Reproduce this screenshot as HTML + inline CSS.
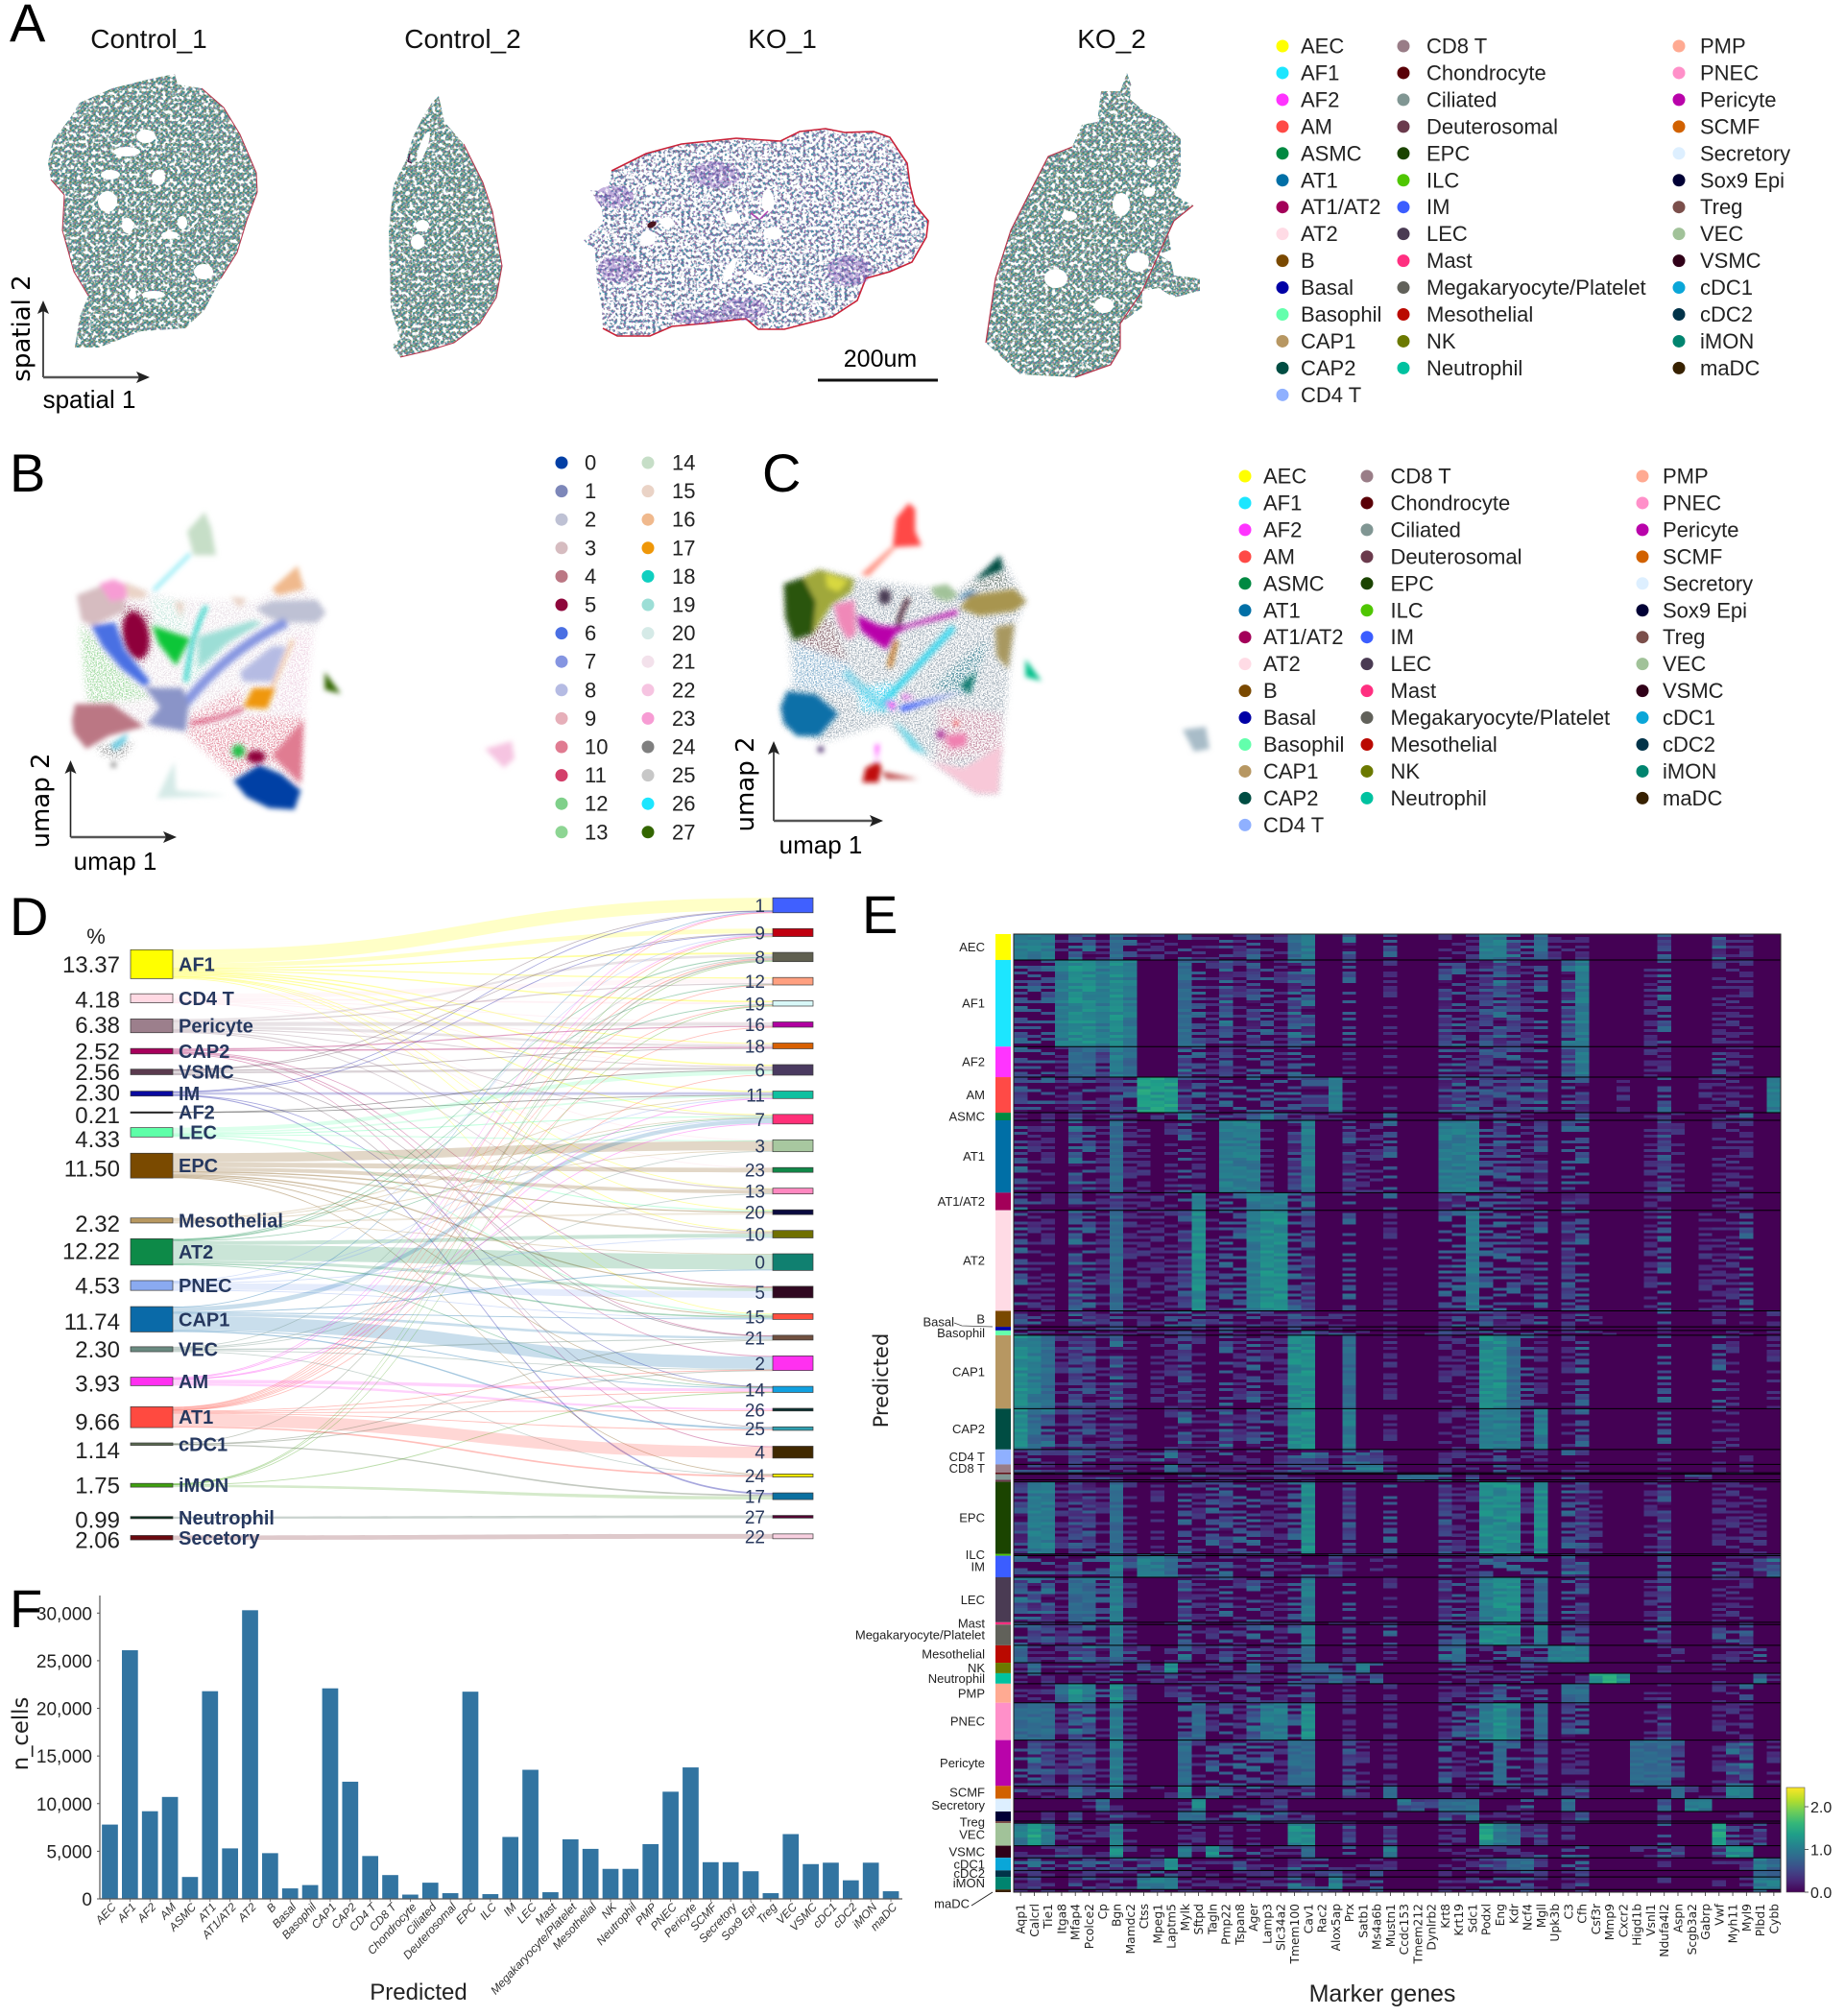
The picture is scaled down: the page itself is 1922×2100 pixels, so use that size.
<!DOCTYPE html>
<html lang="en">
<head>
<meta charset="utf-8">
<title>Lung spatial transcriptomics figure</title>
<style>
html,body{margin:0;padding:0;background:#fff;}
svg{display:block;font-family:"Liberation Sans",sans-serif;}
.letter{font-size:56px;fill:#000;}
.title{font-size:28px;fill:#111;text-anchor:middle;}
.wide{font-family:"DejaVu Sans",sans-serif;}
</style>
</head>
<body>
<svg id="figure" xmlns="http://www.w3.org/2000/svg" width="1922" height="2100" viewBox="0 0 1922 2100">
<defs>
<pattern id="tissueDense" width="5" height="5" patternUnits="userSpaceOnUse">
<rect width="5" height="5" fill="#6f9592"/>
<circle cx="1" cy="1" r=".9" fill="#1f8f90"/><circle cx="3.5" cy=".8" r=".8" fill="#b09468"/>
<circle cx="2.2" cy="2.6" r=".8" fill="#a8709a"/><circle cx="4.3" cy="2.9" r=".8" fill="#3f84b0"/>
<circle cx=".8" cy="4.2" r=".8" fill="#b4c8a4"/><circle cx="3.3" cy="4.3" r=".8" fill="#3f7f5f"/>
</pattern>
<pattern id="tissueSparse" width="5" height="5" patternUnits="userSpaceOnUse">
<rect width="5" height="5" fill="#7a88a8"/>
<circle cx="1" cy="1" r=".9" fill="#2f97a8"/><circle cx="3.5" cy=".8" r=".8" fill="#a860b8"/>
<circle cx="2.2" cy="2.6" r=".8" fill="#55607f"/><circle cx="4.3" cy="2.9" r=".8" fill="#c07a9a"/>
<circle cx=".8" cy="4.2" r=".8" fill="#7a5fa8"/><circle cx="3.3" cy="4.3" r=".8" fill="#40a8b8"/>
</pattern>
<filter id="maskDense" x="-5%" y="-5%" width="110%" height="110%" color-interpolation-filters="sRGB">
<feTurbulence type="fractalNoise" baseFrequency="0.26" numOctaves="2" seed="7" result="n"/>
<feColorMatrix in="n" type="matrix" values="0 0 0 0 0  0 0 0 0 0  0 0 0 0 0  7 0 0 0 -2.55" result="m"/>
<feComposite in="SourceGraphic" in2="m" operator="in"/>
</filter>
<filter id="maskSparse" x="-5%" y="-5%" width="110%" height="110%" color-interpolation-filters="sRGB">
<feTurbulence type="fractalNoise" baseFrequency="0.3" numOctaves="2" seed="11" result="n"/>
<feColorMatrix in="n" type="matrix" values="0 0 0 0 0  0 0 0 0 0  0 0 0 0 0  7 0 0 0 -3.25" result="m"/>
<feComposite in="SourceGraphic" in2="m" operator="in"/>
</filter>
<filter id="soft" x="-10%" y="-10%" width="120%" height="120%"><feGaussianBlur stdDeviation="2.6"/></filter>
<filter id="speckle" x="-10%" y="-10%" width="120%" height="120%" color-interpolation-filters="sRGB">
<feGaussianBlur in="SourceGraphic" stdDeviation="3.5" result="b"/>
<feTurbulence type="fractalNoise" baseFrequency="0.7" numOctaves="2" seed="4" result="n"/>
<feColorMatrix in="n" type="matrix" values="0 0 0 0 0  0 0 0 0 0  0 0 0 0 0  6 0 0 0 -2.7" result="m"/>
<feComposite in="b" in2="m" operator="in"/>
</filter>
<linearGradient id="viridisBar" x1="0" y1="1" x2="0" y2="0">
<stop offset="0" stop-color="#440154"/><stop offset=".11" stop-color="#482878"/><stop offset=".22" stop-color="#3e4a89"/>
<stop offset=".33" stop-color="#31688e"/><stop offset=".44" stop-color="#26828e"/><stop offset=".55" stop-color="#1f9e89"/>
<stop offset=".66" stop-color="#35b779"/><stop offset=".77" stop-color="#6dcd59"/><stop offset=".88" stop-color="#b4de2c"/>
<stop offset="1" stop-color="#fde725"/>
</linearGradient>
<marker id="arrowHead" markerUnits="userSpaceOnUse" markerWidth="14" markerHeight="12" refX="11" refY="6" orient="auto"><path d="M0,0 L14,6 L0,12 L3,6 Z" fill="#222"/></marker>
</defs>

<!-- Panel letters -->
<text class="letter" x="10" y="43">A</text>
<text class="letter" x="10" y="512">B</text>
<text class="letter" x="794" y="512">C</text>
<text class="letter" x="10" y="974">D</text>
<text class="letter" x="898" y="972">E</text>
<text class="letter" x="10" y="1695">F</text>

<!-- Panel A -->
<g id="panelA">
<text class="title" x="155" y="50">Control_1</text>
<text class="title" x="482" y="50">Control_2</text>
<text class="title" x="815" y="50">KO_1</text>
<text class="title" x="1158" y="50">KO_2</text>

<g>
<g filter="url(#maskDense)"><polygon points="182,77 185,88 210,92 233,112 250,140 267,180 268,200 257,230 247,263 230,290 213,323 193,342 147,345 103,362 78,362 83,330 92,308 77,283 65,240 67,203 53,187 50,170 55,147 73,123 83,107 117,92 153,83" fill="url(#tissueDense)"/></g>
<polyline points="210,92 233,112 250,140 267,180 268,200 257,230 247,263 230,290" fill="none" stroke="#b8344c" stroke-width="1"/>
<polyline points="92,308 77,283 65,240 67,203 53,187" fill="none" stroke="#b8344c" stroke-width="1"/>
<g fill="#fff"><ellipse cx="152" cy="142" rx="10" ry="7"/><ellipse cx="132" cy="158" rx="14" ry="5"/><ellipse cx="115" cy="182" rx="10" ry="5"/><ellipse cx="112" cy="210" rx="10" ry="11"/><ellipse cx="133" cy="235" rx="6" ry="8"/><ellipse cx="165" cy="185" rx="7" ry="8"/><ellipse cx="190" cy="232" rx="5" ry="7"/><ellipse cx="177" cy="245" rx="9" ry="4"/><ellipse cx="212" cy="283" rx="10" ry="8"/><ellipse cx="160" cy="307" rx="12" ry="4"/><ellipse cx="138" cy="307" rx="4" ry="5"/></g>
</g>
<g>
<g filter="url(#maskDense)"><polygon points="457,100 463,127 483,150 503,190 513,220 523,277 517,310 500,337 473,357 447,365 417,372 408,360 417,353 407,320 405,240 410,193 423,167 430,143 440,123 450,107" fill="url(#tissueDense)"/></g>
<polyline points="483,150 503,190 513,220 523,277 517,310 500,337 473,357 447,365 417,372" fill="none" stroke="#b8344c" stroke-width="1"/>
<g fill="#fff"><ellipse cx="441" cy="153" rx="4" ry="17" transform="rotate(20 441 153)"/><ellipse cx="440" cy="235" rx="7" ry="6"/><ellipse cx="435" cy="252" rx="7" ry="8"/></g>
<path d="M427,160 l-2,8 4,2" fill="none" stroke="#50204a" stroke-width="1.5"/>
</g>
<g>
<g filter="url(#maskSparse)"><polygon points="628,342 643,350 677,350 700,340 733,337 777,332 790,343 817,343 867,330 893,313 902,290 927,283 950,273 965,247 967,230 953,213 948,193 945,170 927,143 910,137 880,138 860,134 833,137 813,147 767,144 710,150 673,160 637,178 633,200 615,198 627,217 628,233 608,250 620,263 622,293 627,320" fill="url(#tissueSparse)"/></g>
<polyline points="628,342 643,350 677,350 700,340 733,337 777,332 790,343 817,343 867,330 893,313 902,290 927,283 950,273 965,247 967,230 953,213 948,193 945,170 927,143 910,137 880,138 860,134 833,137 813,147 767,144 710,150 673,160 637,178" fill="none" stroke="#c92238" stroke-width="1.6"/>
<g filter="url(#maskDense)" fill="#7a4fb4" opacity=".45"><ellipse cx="730" cy="330" rx="30" ry="8"/><ellipse cx="775" cy="322" rx="24" ry="12"/><ellipse cx="885" cy="282" rx="24" ry="16"/><ellipse cx="645" cy="280" rx="22" ry="14"/><ellipse cx="640" cy="205" rx="20" ry="12"/><ellipse cx="745" cy="182" rx="26" ry="14"/></g>
<g fill="#fff"><ellipse cx="800" cy="210" rx="6.5" ry="12"/><ellipse cx="805" cy="243" rx="10" ry="6.5"/><ellipse cx="675" cy="248" rx="8" ry="8"/><ellipse cx="763" cy="227" rx="8" ry="6.5"/><ellipse cx="695" cy="232" rx="6.5" ry="6"/><ellipse cx="677" cy="197" rx="5" ry="5"/><ellipse cx="760" cy="282" rx="4" ry="14" transform="rotate(25 760 282)"/><ellipse cx="787" cy="290" rx="14" ry="3.5" transform="rotate(15 787 290)"/></g>
<ellipse cx="679" cy="234" rx="5" ry="3" fill="#4a1520" transform="rotate(-25 679 234)"/>
<path d="M792,228 l8,-8 M790,228 l-8,-6" stroke="#b040b0" stroke-width="1.5" fill="none"/>
</g>
<g>
<g filter="url(#maskDense)"><polygon points="1174,76 1179,90 1177,103 1193,117 1210,125 1230,145 1230,183 1223,203 1243,214 1223,230 1217,243 1220,260 1207,265 1220,273 1223,287 1250,290 1250,303 1223,310 1207,300 1190,303 1190,320 1167,337 1167,363 1157,380 1120,393 1063,390 1027,357 1037,290 1053,240 1073,200 1092,163 1117,153 1127,130 1143,127 1147,95 1167,95" fill="url(#tissueDense)"/></g>
<polyline points="1027,357 1037,290 1053,240 1073,200 1092,163 1117,153" fill="none" stroke="#b8344c" stroke-width="1.2"/>
<polyline points="1243,214 1223,230 1217,243 1207,265 1190,303 1167,337 1167,363 1157,380 1120,393" fill="none" stroke="#b8344c" stroke-width="1.2"/>
<g fill="#fff"><ellipse cx="1168" cy="213" rx="9" ry="12"/><ellipse cx="1185" cy="273" rx="12" ry="10"/><ellipse cx="1100" cy="290" rx="12" ry="10"/><ellipse cx="1150" cy="318" rx="10" ry="8"/><ellipse cx="1114" cy="225" rx="8" ry="5"/><ellipse cx="1197" cy="200" rx="6" ry="5"/><ellipse cx="1200" cy="170" rx="5" ry="4"/></g>
</g>

<line x1="45" y1="393" x2="45" y2="316" stroke="#222" stroke-width="1.6" marker-end="url(#arrowHead)"/>
<line x1="45" y1="393" x2="153" y2="393" stroke="#555" stroke-width="2.4" marker-end="url(#arrowHead)"/>
<text transform="translate(31,342) rotate(-90)" text-anchor="middle" font-size="26" class="wide">spatial 2</text>
<text x="93" y="425" text-anchor="middle" font-size="26">spatial 1</text>
<line x1="852" y1="396" x2="977" y2="396" stroke="#111" stroke-width="3"/>
<text x="917" y="382" text-anchor="middle" font-size="25">200um</text>
</g>

<!-- Panel B umap -->
<g id="umapB">
<g filter="url(#speckle)">
<g transform="translate(50,520) scale(.33333)">
<polygon points="240,270 320,290 400,310 650,320 780,240 865,350 830,420 800,680 790,900 600,880 420,730 300,720 120,640 100,400" fill="#ece4ea"/>
<polygon points="100,390 130,420 220,530 320,620 130,640 115,560" fill="#a5dca5"/>
<polygon points="320,300 420,320 440,420 330,400" fill="#cfeae2"/>
<polygon points="470,440 560,450 430,600" fill="#c3e8df"/>
<polygon points="450,670 600,590 610,650 430,730" fill="#e6a0b0"/>
<polygon points="430,730 620,680 798,680 790,880 700,820 580,870" fill="#e698a8"/>
<polygon points="770,420 830,420 800,680 700,650 745,540" fill="#f0d8e6"/>
<polygon points="150,770 270,760 230,810 170,800" fill="#999"/>
<polygon points="230,320 320,350 320,480 290,520 230,450" fill="#b06a88"/>
</g>
</g>
<g filter="url(#soft)">
<g transform="translate(50,520) scale(.33333)">
<polygon points="90,300 180,265 240,300 240,350 140,395 105,380" fill="#d6bcc0"/>
<polygon points="160,265 205,250 250,270 245,310 195,320" fill="#f79cd4"/>
<polygon points="240,260 310,290 300,310 250,310" fill="#ead3c6"/>
<polygon points="395,320 425,325 415,370" fill="#ead3c6"/>
<polygon points="570,305 620,310 600,340" fill="#ead3c6"/>
<polygon points="135,395 210,385 240,470 320,570 300,585 230,530 170,460" fill="#4a6fe3"/>
<ellipse cx="275" cy="425" rx="40" ry="75" fill="#8e063b" transform="rotate(-10 275 425)"/>
<polygon points="325,395 445,435 400,520 345,450" fill="#11c638"/>
<polygon points="470,430 640,380 670,385 560,450 470,530" fill="#9cded6"/>
<polygon points="650,340 700,318 840,315 868,355 840,385 730,385 680,365" fill="#bec1d4"/>
<polygon points="600,540 700,460 745,460 700,570 610,570" fill="#b5bbe3"/>
<path d="M420,650 Q560,470 745,385" fill="none" stroke="#8595e1" stroke-width="30"/>
<polygon points="300,585 345,590 420,590 440,640 430,725 340,710 310,700 350,650" fill="#8a94c8"/>
<path d="M495,335 Q455,400 430,570" fill="none" stroke="#0fcfc0" stroke-width="11"/>
<polygon points="700,280 780,208 800,280 720,300" fill="#f0b98d"/>
<polygon points="610,650 640,590 710,590 685,655" fill="#ef9708"/>
<path d="M700,590 L765,440" stroke="#f0b070" stroke-width="7" fill="none"/>
<path d="M445,700 Q530,690 610,655" fill="none" stroke="#d33f6a" stroke-width="10"/>
<polygon points="700,800 798,690 790,890" fill="#e07b91"/>
<polygon points="85,640 200,640 300,710 190,740 120,780 80,730 75,690" fill="#bb7784"/>
<polygon points="195,770 250,730 240,760 210,785" fill="#60c8e0"/>
<circle cx="205" cy="830" r="9" fill="#888"/>
<polygon points="580,880 660,830 730,860 790,910 770,970 690,965 620,930" fill="#023fa5"/>
<circle cx="595" cy="787" r="20" fill="#22c04a"/>
<ellipse cx="650" cy="805" rx="30" ry="20" fill="#8e063b"/>
<polygon points="340,935 395,820 400,910 560,925" fill="#d5eae7"/>
<polygon points="435,100 490,40 510,90 525,175 455,175" fill="#c6dec7"/>
<path d="M445,170 L330,285" stroke="#50e0f0" stroke-width="7" fill="none"/>
<polygon points="865,540 915,608 865,595" fill="#336600"/>
</g>
<polygon points="505,780 533,772 536,790 525,800" fill="#f6c4e1"/>
</g>
</g>
<line x1="73.5" y1="872" x2="73.5" y2="795" stroke="#222" stroke-width="1.6" marker-end="url(#arrowHead)"/>
<line x1="73.5" y1="872" x2="181" y2="872" stroke="#555" stroke-width="2.4" marker-end="url(#arrowHead)"/>
<text transform="translate(51,834) rotate(-90)" text-anchor="middle" font-size="26" class="wide">umap 2</text>
<text x="120" y="906" text-anchor="middle" font-size="26">umap 1</text>

<!-- Panel C umap -->
<g id="umapC">
<g filter="url(#speckle)">
<g transform="translate(790,510) scale(.33333)">
<polygon points="80,300 190,250 310,280 620,320 760,210 835,350 800,430 760,800 750,950 680,950 540,850 400,730 200,790 80,740 70,670 110,600 85,400" fill="#a6b2bc"/>
<polygon points="110,470 280,540 320,640 110,620" fill="#8cb4d0"/>
<polygon points="310,620 420,600 430,690 320,695" fill="#50d0ee"/>
<polygon points="540,620 650,520 720,470 660,640" fill="#4a8a9a"/>
<polygon points="560,680 760,700 760,820 560,850" fill="#c896aa"/>
<polygon points="140,430 230,400 280,540 120,480" fill="#907078"/>
<polygon points="640,310 760,250 790,300 650,320" fill="#708078"/>
</g>
</g>
<g filter="url(#soft)">
<g transform="translate(790,510) scale(.33333)">
<polygon points="80,295 140,275 180,350 170,450 110,470 85,400" fill="#2a5510"/>
<polygon points="140,275 190,250 300,280 290,320 230,360 190,420 170,450 180,350" fill="#a0a83a"/>
<polygon points="210,262 280,285 250,320 215,305" fill="#d8d840"/>
<polygon points="235,360 300,345 305,450 280,470 250,420" fill="#f088b8"/>
<polygon points="305,390 380,425 440,430 625,375 620,390 470,430 430,450 400,500 370,480 320,440" fill="#b903aa"/>
<path d="M470,340 Q440,390 437,430" fill="none" stroke="#300018" stroke-width="12"/>
<ellipse cx="395" cy="335" rx="20" ry="24" fill="#4a3b53"/>
<path d="M430,470 L410,555" stroke="#c06a10" stroke-width="13" fill="none"/>
<polygon points="540,305 590,295 625,330 590,350 550,335" fill="#a1c299"/>
<polygon points="675,285 755,205 765,250" fill="#004d43"/>
<polygon points="630,370 660,330 800,310 838,350 800,380 690,395" fill="#a89550"/>
<polygon points="740,430 800,420 780,560 745,520" fill="#a89860"/>
<polygon points="620,340 660,318 690,320 640,340" fill="#2f7fb0"/>
<path d="M385,670 L610,430" stroke="#30d8f0" stroke-width="18" fill="none"/>
<path d="M270,570 L400,690" stroke="#60d0e8" stroke-width="26" fill="none" opacity=".6"/>
<polygon points="630,610 680,570 660,640" fill="#0f7a70"/>
<polygon points="440,678 600,640 640,630 560,655 450,695" fill="#3b5dff"/>
<polygon points="90,630 180,640 250,700 190,770 120,770 80,730 70,680" fill="#1070a8"/>
<polygon points="395,660 430,665 420,695" fill="#f050f0"/>
<polygon points="450,640 490,650 450,655" fill="#e050e8"/>
<polygon points="420,720 470,760 530,830 480,810" fill="#70d8e8"/>
<polygon points="540,850 640,870 760,800 750,950 680,950" fill="#f8c8d8"/>
<polygon points="580,770 650,760 650,800 600,810" fill="#f080b0"/>
<circle cx="570" cy="765" r="14" fill="#b040a0"/>
<circle cx="618" cy="730" r="8" fill="#ff5050"/>
<polygon points="325,915 335,870 375,850 385,870 375,915" fill="#c00808"/>
<polygon points="385,880 500,905 400,905" fill="#c05050"/>
<polygon points="365,800 378,795 370,850" fill="#ff34ff"/>
<polygon points="420,180 430,90 470,42 490,60 490,130 510,175" fill="#ff4a46"/>
<polygon points="415,180 430,180 345,270 320,265" fill="#ff9080"/>
<polygon points="835,530 885,598 835,585" fill="#00c08a"/>
<circle cx="195" cy="812" r="10" fill="#503070"/>
</g>
<polygon points="1232,760 1256,757 1260,780 1244,783" fill="#a8bcc8"/>
</g>
</g>
<line x1="806" y1="855" x2="806" y2="775" stroke="#222" stroke-width="1.6" marker-end="url(#arrowHead)"/>
<line x1="806" y1="855" x2="917" y2="855" stroke="#555" stroke-width="2.4" marker-end="url(#arrowHead)"/>
<text transform="translate(785,817) rotate(-90)" text-anchor="middle" font-size="26" class="wide">umap 2</text>
<text x="855" y="889" text-anchor="middle" font-size="26">umap 1</text>

<g id="legends"></g>
<g id="sankey"></g>
<g id="heatmap"></g>
<g id="barchart"></g>
</svg>

<script>
/* ---------- shared categories ---------- */
const cellTypes = ["AEC","AF1","AF2","AM","ASMC","AT1","AT1/AT2","AT2","B","Basal","Basophil","CAP1","CAP2","CD4 T","CD8 T","Chondrocyte","Ciliated","Deuterosomal","EPC","ILC","IM","LEC","Mast","Megakaryocyte/Platelet","Mesothelial","NK","Neutrophil","PMP","PNEC","Pericyte","SCMF","Secretory","Sox9 Epi","Treg","VEC","VSMC","cDC1","cDC2","iMON","maDC"];
const cellColors = ["#ffff00","#1ce6ff","#ff34ff","#ff4a46","#008941","#006fa6","#a30059","#ffdbe5","#7a4900","#0000a6","#63ffac","#b79762","#004d43","#8fb0ff","#997d87","#5a0007","#809693","#6a3a4c","#1b4400","#4fc601","#3b5dff","#4a3b53","#ff2f80","#61615a","#ba0900","#6b7900","#00c2a0","#ffaa92","#ff90c9","#b903aa","#d16100","#ddefff","#000035","#7b4f4b","#a1c299","#300018","#0aa6d8","#013349","#00846f","#372101"];
const clusterColors = ["#023fa5","#7d87b9","#bec1d4","#d6bcc0","#bb7784","#8e063b","#4a6fe3","#8595e1","#b5bbe3","#e6afb9","#e07b91","#d33f6a","#7fd08a","#8dd593","#c6dec7","#ead3c6","#f0b98d","#ef9708","#0fcfc0","#9cded6","#d5eae7","#f3e1eb","#f6c4e1","#f79cd4","#7f7f7f","#c7c7c7","#1ce6ff","#336600"];

/* ---------- panel F data ---------- */
const nCells = [7800,26100,9200,10700,2300,21800,5300,30300,4800,1100,1450,22100,12300,4500,2500,450,1700,600,21750,500,6500,13550,700,6250,5250,3150,3150,5750,11250,13800,3850,3850,2900,600,6800,3650,3800,1950,3800,800];
const barTicks = [0,5000,10000,15000,20000,25000,30000];
const barTickLabels = ["0","5,000","10,000","15,000","20,000","25,000","30,000"];

/* ---------- panel D data ---------- */
const leftLabels = ["AF1","CD4 T","Pericyte","CAP2","VSMC","IM","AF2","LEC","EPC","Mesothelial","AT2","PNEC","CAP1","VEC","AM","AT1","cDC1","iMON","Neutrophil","Secetory"];
const leftPercent = [13.37,4.18,6.38,2.52,2.56,2.30,0.21,4.33,11.50,2.32,12.22,4.53,11.74,2.30,3.93,9.66,1.14,1.75,0.99,2.06];
const leftColors = ["#ffff00","#ffd9e3","#9c7f8c","#a8005c","#5a3a4e","#0a0aa0","#111111","#5effa8","#7a4a00","#b89860","#0d8a48","#8aaaf0","#0a6aa8","#6a8a80","#ff30f0","#ff4a40","#5a6a50","#40a010","#0a3020","#6a0a10"];
const rightLabels = [1,9,8,12,19,16,18,6,11,7,3,23,13,20,10,0,5,15,21,2,14,26,25,4,24,17,27,22];
const rightShares = [6.93,3.69,4.27,3.47,2.44,2.44,2.67,4.89,3.47,4.44,5.51,2.22,2.67,2.22,3.47,7.73,5.33,2.67,2.22,6.76,2.84,1.24,1.64,5.51,1.42,3.11,1.24,2.22];
const rightColors = ["#4060ff","#c00010","#606050","#ffa080","#d8f8f8","#b000a0","#d86000","#4a3a60","#10c0a0","#ff3078","#a8c8a0","#108848","#ff88c0","#0a0a40","#707000","#108070","#300820","#ff5040","#705040","#ff30f0","#10a0e0","#0a3030","#30a0b0","#402800","#f0e800","#0a70a0","#500030","#f8d0e0"];
const linkTargets = [
 [1,9,8,12,19,18,6,11,7,10,20,15,13],
 [12,19,16,18,6,3,23],
 [8,12,16,18,6,7,13,10],
 [16,18,5,21,4,2],
 [18,6,1,9,21,25],
 [1,9,11,14,17],
 [11,6],
 [6,11,7,3,20,15],
 [3,23,13,10,20,5,15,14,24],
 [20,11,7,3,0],
 [10,0,5,15,7,8,14,19,12],
 [5,7,11,9,15,10],
 [7,15,21,2,14,25,0,1],
 [3,21,8,13,2,24],
 [7,1,9,14,26,11],
 [1,8,9,12,19,16,6,26,25,4,24,14,2],
 [8,17,2,21],
 [8,9,14,17,19],
 [27],
 [22]
];
const linkWeights = [
 [6,1.8,.5,.5,.5,.5,.6,.5,.5,.4,.3,.3,.2],
 [2,.6,.3,.4,.2,.2,.1],
 [.7,.5,1.6,1.2,.4,.3,.5,.3],
 [.5,.6,.3,.3,.2,.3],
 [.4,1,.2,.2,.4,.2],
 [.3,.2,1.1,.1,.5],
 [.1,.1],
 [1.8,.7,.5,.3,.5,.4],
 [3.4,1.8,1.4,.7,.5,.5,.3,.3,.3],
 [.8,.4,.4,.3,.2],
 [1.6,6.4,1.2,.5,.3,.3,.3,.3,.1],
 [2.8,.5,.2,.2,.2,.2],
 [2,.3,1.2,6,.4,.5,.4,.2],
 [.3,.5,.2,.2,.3,.2],
 [.3,.3,.3,1.4,.9,.1],
 [.2,.3,.3,.2,.2,.1,.3,.3,.3,5,.6,.3,.3],
 [.4,.5,.1,.1],
 [.2,.1,.2,1,.1],
 [1],
 [2.1]
];

/* ---------- panel E data ---------- */
const geneNames = ["Aqp1","Calcrl","Tie1","Itga8","Mfap4","Pcolce2","Cp","Bgn","Mamdc2","Ctss","Mpeg1","Laptm5","Mylk","Sftpd","Tagln","Pmp22","Tspan8","Ager","Lamp3","Slc34a2","Tmem100","Cav1","Rac2","Alox5ap","Prx","Satb1","Ms4a6b","Mustn1","Ccdc153","Tmem212","Dynlrb2","Krt8","Krt19","Sdc1","Podxl","Eng","Kdr","Ncf4","Mgll","Upk3b","C3","Cfh","Csf3r","Mmp9","Cxcr2","Higd1b","Vsnl1","Ndufa4l2","Aspn","Scgb3a2","Gabrp","Vwf","Myh11","Myl9","Plbd1","Cybb"];
const heatLabels = ["AEC","AF1","AF2","AM","ASMC","AT1","AT1/AT2","AT2","B","Basal","Basophil","CAP1","CAP2","CD4 T","CD8 T","","","","EPC","ILC","IM","LEC","Mast","Megakaryocyte/Platelet","Mesothelial","NK","Neutrophil","PMP","PNEC","Pericyte","SCMF","Secretory","","Treg","VEC","VSMC","cDC1","cDC2","iMON","maDC"];
const colorbarTicks = [0,1,2];
/* mean expression per cell type, in units of 0.2 */
const rowAEC=[6,6,6,1,4,4,1,5,2,1, 1,1,2,1,1,2,1,2,1,1, 5,6,0,0,4,0,0,2,0,0, 0,1,1,1,6,6,4,2,5,1, 1,1,0,0,0,0,0,3,0,0, 0,4,1,1,0,0];
const rowAF1=[2,2,2,6,7,7,6,7,6,0, 0,0,5,2,1,4,1,3,2,1, 4,4,0,0,2,0,0,1,0,0, 0,3,2,1,3,4,3,1,2,0, 4,6,0,0,0,0,1,2,0,0, 0,1,1,1,0,0];
const rowAF2=[2,2,2,1,5,5,3,6,5,0, 0,0,4,2,1,3,1,2,2,1, 2,2,0,0,1,0,0,1,0,0, 0,2,2,1,3,3,2,1,2,0, 4,6,0,0,0,0,1,1,0,0, 0,2,1,1,0,0];
const rowAM=[3,2,2,1,3,2,1,3,2,8, 8,8,3,2,1,2,2,2,2,2, 2,3,3,6,1,0,0,1,0,0, 0,3,4,2,3,3,3,2,4,0, 2,3,0,0,1,0,0,2,0,0, 1,1,1,1,0,6];
const rowASMC=[1,1,1,0,3,3,1,3,1,0, 1,1,6,3,2,2,1,3,6,4, 1,3,1,1,1,0,0,2,0,0, 0,1,1,1,1,2,1,1,2,0, 1,2,0,0,0,0,1,1,1,0, 0,1,2,2,0,0];
const rowAT1=[2,1,1,0,4,2,1,5,1,1, 0,1,2,1,0,6,6,6,1,0, 3,6,0,0,3,1,1,2,0,0, 0,6,6,6,2,3,2,1,3,0, 2,2,0,0,0,0,1,3,1,0, 0,1,1,1,0,0];
const rowAT1AT2=[2,2,1,0,3,2,1,3,1,1, 1,1,2,6,1,2,2,6,6,6, 2,4,0,0,2,0,0,2,0,0, 0,3,3,2,2,2,2,1,2,0, 3,1,0,0,0,0,1,1,0,0, 0,1,1,1,0,0];
const rowAT2=[2,1,1,0,4,2,1,5,1,1, 1,1,3,7,1,2,2,6,7,7, 2,3,0,0,2,0,0,1,0,0, 0,2,2,6,2,2,2,1,2,0, 3,2,0,0,0,0,1,2,0,0, 1,1,1,2,0,0];
const rowB=[3,2,1,0,4,3,1,2,1,1, 1,2,2,2,1,2,1,2,1,1, 3,3,1,1,1,0,0,1,0,0, 0,1,2,1,3,3,1,1,2,0, 1,2,1,0,0,0,0,2,0,0, 0,1,0,1,0,1];
const rowBasal=[1,1,1,0,2,2,1,2,1,0, 0,1,2,1,1,2,1,2,1,1, 2,2,1,1,1,0,0,1,0,0, 0,3,3,2,1,1,1,0,1,0, 1,1,0,0,0,0,0,1,0,0, 0,0,0,0,0,0];
const rowBasophil=[2,2,1,0,2,2,1,3,1,1, 1,1,2,1,1,2,1,2,1,1, 3,4,1,4,2,1,0,1,0,1, 1,2,1,1,2,2,2,2,2,0, 1,2,1,1,0,0,0,1,0,0, 0,1,1,1,1,1];
const rowCAP1=[7,6,5,1,3,3,1,4,1,0, 1,1,3,1,0,2,1,2,1,1, 7,7,0,0,5,0,0,1,0,0, 0,1,1,1,7,7,5,2,1,0, 1,2,0,0,0,0,0,2,0,0, 0,2,1,0,0,1];
const rowCAP2=[7,5,4,1,3,3,1,3,1,0, 0,1,4,1,1,4,1,3,2,1, 7,7,0,0,6,0,0,1,0,0, 0,1,1,1,6,6,6,1,6,0, 1,2,0,0,0,0,0,2,0,0, 0,1,1,0,0,0];
const rowCD4=[1,2,1,1,3,2,1,3,1,1, 2,4,1,1,1,2,1,1,0,1, 4,4,3,1,4,4,3,1,0,0, 0,1,1,1,1,2,1,1,1,0, 2,1,0,0,0,0,0,1,0,0, 0,1,0,1,0,0];
const rowCD8=[2,2,1,1,2,1,1,1,1,1, 1,5,1,1,1,1,1,1,1,1, 2,4,4,1,2,6,6,1,0,0, 0,1,1,1,2,2,1,1,1,0, 1,1,0,0,0,0,0,1,0,0, 0,1,0,1,0,0];
const rowChondrocyte=[1,1,1,1,2,2,1,2,1,0, 0,0,1,1,1,1,1,1,1,1, 1,2,0,0,1,0,0,1,0,0, 0,1,1,1,1,1,1,1,1,0, 1,1,0,0,0,0,0,1,0,0, 0,0,1,1,0,0];
const rowCiliated=[0,0,0,0,1,1,2,1,0,0, 1,1,1,2,1,1,1,1,1,1, 1,1,0,0,0,0,0,0,5,5, 5,4,4,4,0,0,2,1,0,0, 2,0,0,0,0,0,0,1,0,3, 3,0,0,0,0,0];
const rowDeuterosomal=[1,1,1,0,1,1,1,1,0,0, 0,0,1,1,1,1,1,1,1,1, 1,1,0,0,0,0,0,0,3,3, 3,2,2,2,0,1,1,0,0,0, 1,0,0,0,0,0,0,1,0,1, 1,0,0,0,0,0];
const rowEPC=[3,6,6,1,3,3,1,5,1,0, 1,0,2,1,2,3,2,2,1,1, 2,7,0,0,3,0,0,2,0,0, 0,3,1,1,7,7,7,1,7,0, 2,3,1,0,0,0,1,3,0,0, 0,1,1,1,1,0];
const rowILC=[1,1,1,0,2,1,1,1,1,2, 1,2,1,1,1,1,1,1,1,1, 1,1,1,2,1,1,1,0,0,0, 0,1,1,1,1,1,1,1,1,0, 1,1,0,0,0,0,0,1,0,0, 0,0,0,0,1,1];
const rowIM=[2,2,2,1,4,2,2,6,3,6, 6,5,2,1,2,2,1,1,2,1, 1,2,1,3,1,0,1,1,0,0, 0,2,1,1,2,2,2,2,2,0, 4,4,0,0,0,0,0,2,0,0, 0,2,1,1,3,4];
const rowLEC=[4,4,4,1,5,5,2,6,1,0, 0,0,4,1,1,2,1,2,1,1, 2,6,0,0,2,0,0,1,0,0, 0,3,2,1,6,7,7,1,5,0, 2,3,0,0,0,0,1,3,0,0, 0,1,1,1,0,0];
const rowMast=[2,2,1,1,2,2,1,3,1,1, 1,1,2,1,1,1,1,1,1,1, 1,3,1,1,1,0,1,1,0,0, 0,1,1,1,3,3,3,1,2,0, 1,1,0,0,0,0,0,1,0,0, 0,1,0,1,0,0];
const rowMega=[2,3,3,1,3,2,1,6,1,0, 0,0,4,1,1,2,1,2,2,1, 2,6,0,0,2,0,0,2,0,0, 0,2,2,1,7,7,7,1,6,0, 2,3,0,0,0,0,2,3,0,0, 0,3,2,3,0,0];
const rowMesothelial=[5,1,1,1,4,4,3,5,3,1, 0,1,4,1,1,3,1,2,1,1, 2,5,0,0,1,0,0,1,0,0, 0,4,5,1,1,2,2,4,2,6, 6,6,0,0,0,0,0,1,1,0, 0,1,1,1,2,0];
const rowNK=[1,5,1,1,2,1,1,2,1,4, 1,7,1,1,1,1,1,5,1,0, 3,5,5,2,1,6,2,0,0,0, 0,2,2,1,1,1,1,3,1,0, 0,0,0,0,0,0,0,1,0,0, 0,1,0,0,0,0];
const rowNeutrophil=[1,2,1,0,1,1,1,2,0,1, 1,3,1,1,1,1,1,1,1,1, 2,2,3,5,4,1,2,0,0,0, 0,1,1,1,1,1,1,2,1,0, 1,1,8,9,7,0,0,0,0,0, 0,1,0,0,4,1];
const rowPMP=[1,1,1,5,7,6,2,7,3,0, 0,1,3,1,1,2,1,2,1,1, 2,3,0,0,1,0,0,1,0,0, 0,1,1,1,3,4,2,1,2,0, 5,5,0,0,0,0,1,1,0,0, 0,1,1,2,0,0];
const rowPNEC=[5,5,5,1,4,4,1,6,1,0, 0,0,2,5,1,2,1,4,6,6, 2,7,0,0,1,0,0,1,0,0, 0,1,2,4,6,7,6,1,5,0, 3,2,0,0,0,0,1,3,0,0, 0,1,1,1,0,0];
const rowPericyte=[2,4,3,1,3,3,1,6,1,0, 0,0,5,1,2,2,2,2,2,1, 5,5,0,0,3,1,0,1,0,0, 0,2,1,1,2,5,2,1,3,0, 1,1,0,0,0,5,5,5,3,0, 0,1,4,4,0,1];
const rowSCMF=[2,1,1,1,5,3,2,6,1,0, 1,1,6,1,5,2,1,2,1,1, 1,3,0,0,3,1,0,5,0,0, 0,1,1,1,1,1,1,1,2,0, 3,3,0,0,0,1,0,2,5,1, 1,1,6,6,0,0];
const rowSecretory=[0,0,0,0,0,1,5,1,0,0, 0,0,1,7,0,0,1,1,1,4, 0,0,0,0,0,0,0,0,4,4, 3,5,5,5,0,0,1,4,0,0, 5,0,0,0,0,0,0,2,0,6, 6,0,0,0,0,0];
const rowSox9=[0,0,1,0,3,2,1,3,1,1, 0,0,5,5,1,2,2,4,4,4, 1,3,0,0,1,0,0,1,0,0, 0,4,3,5,1,1,1,1,1,0, 3,2,0,0,0,0,0,1,0,0, 0,0,1,1,0,0];
const rowTreg=[1,1,1,0,1,1,1,2,0,1, 1,2,1,1,1,1,1,1,1,1, 1,1,1,1,1,1,1,0,0,0, 0,1,1,1,1,1,1,1,1,0, 1,1,0,0,0,0,0,1,0,0, 0,0,0,0,0,0];
const rowVEC=[6,8,6,1,1,1,1,6,1,0, 0,0,1,1,0,1,0,1,0,0, 7,7,0,0,3,0,0,3,0,0, 0,1,1,0,8,6,5,1,3,0, 1,0,0,0,0,0,0,2,0,0, 0,8,2,1,3,0];
const rowVSMC=[1,1,1,3,3,1,1,7,1,0, 1,0,6,1,7,2,1,2,1,1, 1,5,0,0,2,0,0,6,0,0, 0,1,1,1,1,1,1,1,2,0, 2,2,0,0,0,1,1,4,4,0, 0,3,7,7,0,0];
const rowCDC1=[2,4,2,1,4,3,2,4,2,3, 3,7,2,1,1,1,2,1,1,1, 4,3,2,1,1,1,1,1,0,0, 0,1,1,1,3,3,5,5,1,0, 2,4,0,0,0,0,0,1,0,0, 0,1,1,1,6,5];
const rowCDC2=[1,1,1,0,1,1,1,2,1,2, 2,2,1,0,1,1,1,1,1,0, 1,1,3,2,1,0,2,0,0,0, 0,1,0,1,0,1,1,2,1,0, 1,3,0,0,0,0,0,0,0,0, 0,0,0,0,4,3];
const rowIMON=[1,3,1,0,3,2,1,3,1,6, 6,6,1,1,1,1,1,1,1,1, 4,4,2,6,1,1,2,0,0,0, 0,1,1,1,2,2,2,2,1,0, 1,3,0,0,0,0,0,1,0,0, 0,1,0,1,6,6];
const rowMaDC=[1,2,1,0,1,1,1,1,1,1, 1,2,1,1,0,1,1,1,1,1, 1,2,2,1,1,2,3,0,0,0, 0,1,1,1,1,1,1,2,0,0, 1,1,0,0,0,0,0,0,0,0, 0,0,0,0,2,1];
const heatRows=[rowAEC,rowAF1,rowAF2,rowAM,rowASMC,rowAT1,rowAT1AT2,rowAT2,rowB,rowBasal,rowBasophil,rowCAP1,rowCAP2,rowCD4,rowCD8,rowChondrocyte,rowCiliated,rowDeuterosomal,rowEPC,rowILC,rowIM,rowLEC,rowMast,rowMega,rowMesothelial,rowNK,rowNeutrophil,rowPMP,rowPNEC,rowPericyte,rowSCMF,rowSecretory,rowSox9,rowTreg,rowVEC,rowVSMC,rowCDC1,rowCDC2,rowIMON,rowMaDC];

/* ---------- helpers ---------- */
const NS = "http://www.w3.org/2000/svg";
function mk(tag, attrs, parent){
  const el = document.createElementNS(NS, tag);
  for (const k in attrs) el.setAttribute(k, attrs[k]);
  parent.appendChild(el);
  return el;
}

/* ---------- legends ---------- */
const legendsG = document.getElementById("legends");
function drawTypeLegend(name, colDots, colTexts, y0, step){
  const breaks = [0, 14, 27, 40];
  for (let c = 0; c < 3; c++) {
    for (let i = breaks[c]; i < breaks[c + 1]; i++) {
      const y = y0 + (i - breaks[c]) * step;
      const dot = mk("ellipse", {cx: colDots[c], cy: y, rx: 6.5, ry: 6.5, fill: cellColors[i]}, legendsG);
      
      
      const t = mk("text", {x: colTexts[c], y: y + 7.5, "font-size": 22, fill: "#222"}, legendsG);
      t.textContent = cellTypes[i];
      
      
    }
  }
}
drawTypeLegend("a", [1336, 1462, 1749], [1355, 1486, 1771], 48, 27.95);
drawTypeLegend("c", [1297, 1424, 1711], [1316, 1448.5, 1732], 496, 27.95);
for (let i = 0; i < clusterColors.length; i++) {
  const col = i < 14 ? 0 : 1;
  const y = 482 + (i % 14) * 29.6;
  const dot = mk("ellipse", {cx: col ? 675 : 585, cy: y, rx: 6.5, ry: 6.5, fill: clusterColors[i]}, legendsG);
  
  
  const t = mk("text", {x: col ? 700 : 609, y: y + 7.5, "font-size": 22, fill: "#222"}, legendsG);
  t.textContent = String(i);
  
  
}

/* ---------- panel D sankey ---------- */
(function(){
  const g = document.getElementById("sankey");
  const pxPerPct = 2.25;
  const leftGaps = [0,15.8,16.8,16.4,15.9,17.1,16.4,16,16.9,41.6,16.4,16.1,16.9,15.4,26.5,22,15.9,39.6,30.6,17.5];
  const pctNudge = [0,1,-1,0,0,-1,3,7,3,3,-1,0,2,0,2,5,6,0,2,2];
  const lx0 = 136, lx1 = 180, rx0 = 805, rx1 = 847;
  const lTop = [], lH = [], rTop = [], rH = [];
  let y = 989.3;
  leftPercent.forEach((p, i) => { y += leftGaps[i]; lTop.push(y); lH.push(p * pxPerPct); y += p * pxPerPct; });
  y = 935.2;
  rightShares.forEach((s, i) => { rTop.push(y); rH.push(s * pxPerPct); y += s * pxPerPct + 16.5; });

  const links = [];
  linkTargets.forEach((ts, s) => ts.forEach((t, k) => links.push({s, t: rightLabels.indexOf(t), w: linkWeights[s][k]})));
  const lSum = leftPercent.map((_, s) => links.filter(l => l.s === s).reduce((a, l) => a + l.w, 0));
  const rSum = rightShares.map((_, t) => links.filter(l => l.t === t).reduce((a, l) => a + l.w, 0));
  const lOff = lTop.slice(), rOff = rTop.slice();
  leftPercent.forEach((_, s) => {
    links.filter(l => l.s === s).sort((a, b) => a.t - b.t).forEach(l => {
      l.h0 = Math.max(.9, l.w / lSum[s] * lH[s]); l.y0 = lOff[s]; lOff[s] += l.w / lSum[s] * lH[s];
    });
  });
  rightShares.forEach((_, t) => {
    links.filter(l => l.t === t).sort((a, b) => a.s - b.s).forEach(l => {
      l.h1 = Math.max(.9, l.w / rSum[t] * rH[t]); l.y1 = rOff[t]; rOff[t] += l.w / rSum[t] * rH[t];
    });
  });
  const xm = (lx1 + rx0) / 2;
  links.forEach(l => {
    const d = `M${lx1},${l.y0} C${xm},${l.y0} ${xm},${l.y1} ${rx0},${l.y1} L${rx0},${l.y1 + l.h1} C${xm},${l.y1 + l.h1} ${xm},${l.y0 + l.h0} ${lx1},${l.y0 + l.h0} Z`;
    const p = mk("path", {d, fill: leftColors[l.s], "fill-opacity": l.w < .7 ? .36 : .22}, g);
    
    
  });
  const pct = mk("text", {x: 100, y: 983, "font-size": 22, "text-anchor": "middle", fill: "#222"}, g);
  pct.textContent = "%";
  
  
  leftLabels.forEach((name, i) => {
    const r = mk("rect", {x: lx0, y: lTop[i], width: lx1 - lx0, height: Math.max(1.4, lH[i]), fill: leftColors[i], stroke: "#3a3a3a", "stroke-width": .7}, g);
    
    
    const cy = lTop[i] + lH[i] / 2;
    const t = mk("text", {x: 186, y: cy + 7, "font-size": 20, "font-weight": "bold", fill: "#26385f"}, g);
    t.textContent = name;
    
    
    const v = mk("text", {x: 125, y: cy + 8.5 + pctNudge[i], "font-size": 24, "text-anchor": "end", fill: "#222"}, g);
    v.textContent = leftPercent[i].toFixed(2);
    
    
  });
  rightLabels.forEach((name, i) => {
    const r = mk("rect", {x: rx0, y: rTop[i], width: rx1 - rx0, height: rH[i], fill: rightColors[i], stroke: "#3a3a3a", "stroke-width": .7}, g);
    
    
    const t = mk("text", {x: 797, y: rTop[i] + rH[i] / 2 + 7, "font-size": 19, "text-anchor": "end", fill: "#2a3a5e"}, g);
    t.textContent = String(name);
    
    
  });
})();

/* ---------- panel E heatmap ---------- */
(function(){
  const g = document.getElementById("heatmap");
  const X0 = 1056, X1 = 1855, Y0 = 973, Y1 = 1971, colW = (X1 - X0) / geneNames.length;
  const total = nCells.reduce((a, b) => a + b, 0);
  const yScale = (Y1 - Y0) / total;
  const viridis = [[68,1,84],[72,40,120],[62,74,137],[49,104,142],[38,130,142],[31,158,137],[53,183,121],[109,205,89],[180,222,44],[253,231,37]];
  const stripeTexture = [1.1,.2,.9,1.3,.5,0,1,.7,1.4,.3,.8,1.2,0,.6,1,.4,1.3,.9,.1,1.1,.7,1.25,.35,.95,0,1.15,.55,.85,1.35,.25,.75,1.05,.15,1.2,.65,.45,1];
  function color(v){
    const t = Math.max(0, Math.min(1, v / 2.4)) * (viridis.length - 1);
    const i = Math.min(viridis.length - 2, Math.floor(t)), f = t - i;
    const c = viridis[i].map((a, k) => Math.round(a + (viridis[i + 1][k] - a) * f));
    return `rgb(${c[0]},${c[1]},${c[2]})`;
  }
  const bg = mk("rect", {x: X0, y: Y0, width: X1 - X0, height: Y1 - Y0, fill: "#440154"}, g);
  
  
  let y = Y0, rowCounter = 0;
  const cells = mk("g", {"shape-rendering": "crispEdges"}, g);
  
  
  cellTypes.forEach((name, gi) => {
    const h = nCells[gi] * yScale;
    const strip = mk("rect", {x: 1037, y: y, width: 16, height: h, fill: cellColors[gi]}, g);
    
    
    const nSub = Math.max(1, Math.round(h / 3));
    const sh = h / nSub;
    for (let r = 0; r < nSub; r++) {
      rowCounter++;
      heatRows[gi].forEach((v, c) => {
        if (!v) return;
        let t = stripeTexture[(rowCounter * 13 + c * c * 5 + c * 7 + gi * 3) % stripeTexture.length];
        if (v <= 2) { if (t < .85) return; t *= 1.7; }
        else if (v >= 5) { t = .78 + t * .18; }
        const expr = v * .18 * t;
        const cell = mk("rect", {x: (X0 + c * colW).toFixed(2), y: (y + r * sh).toFixed(2), width: colW.toFixed(2), height: sh.toFixed(2), fill: color(expr)}, cells);
        
        
      });
    }
    if (heatLabels[gi]) {
      let ly = y + h / 2, lx = 1026;
      if (name === "Basal") { ly = 1377; lx = 994; }
      if (name === "maDC") { ly = 1983; lx = 1010; }
      const t = mk("text", {x: lx, y: ly + 4.5, "font-size": 13, "text-anchor": "end", fill: "#222"}, g);
      t.textContent = heatLabels[gi];
      
      
    }
    y += h;
    if (gi < cellTypes.length - 1) {
      const sep = mk("line", {x1: X0, x2: X1, y1: y, y2: y, stroke: "#000", "stroke-width": 1}, g);
      
      
    }
  });
  const frame = mk("rect", {x: X0, y: Y0, width: X1 - X0, height: Y1 - Y0, fill: "none", stroke: "#222", "stroke-width": 1}, g);
  
  
  const lead1 = mk("path", {d: "M994,1378 L1002,1381 L1034,1382", fill: "none", stroke: "#444", "stroke-width": .8}, g);
  
  
  const lead2 = mk("line", {x1: 1012, y1: 1985, x2: 1034, y2: 1971, stroke: "#222", "stroke-width": 1}, g);
  
  
  geneNames.forEach((gene, i) => {
    const cx = X0 + (i + .5) * colW;
    const tk = mk("line", {x1: cx, x2: cx, y1: Y1, y2: Y1 + 4, stroke: "#333", "stroke-width": .8}, g);
    
    
    const t = mk("text", {transform: `translate(${cx + 4.5},${Y1 + 12}) rotate(-90)`, "font-size": 12.3, "text-anchor": "end", "font-family": '"DejaVu Sans",sans-serif', fill: "#222"}, g);
    t.textContent = gene;
    
    
  });
  const xt = mk("text", {x: 1440, y: 2085, "font-size": 25, "text-anchor": "middle", fill: "#222"}, g);
  xt.textContent = "Marker genes";
  
  
  const yt = mk("text", {transform: "translate(925,1438) rotate(-90)", "font-size": 21, "text-anchor": "middle", "font-family": '"DejaVu Sans",sans-serif', fill: "#222"}, g);
  yt.textContent = "Predicted";
  
  
  /* colorbar */
  const cbY = v => Y1 - v * 44.5;
  const cb = mk("rect", {x: 1861, y: cbY(2.45), width: 19, height: 2.45 * 44.5, fill: "url(#viridisBar)", stroke: "#555", "stroke-width": .6}, g);
  
  
  colorbarTicks.forEach(v => {
    const tk = mk("line", {x1: 1880, x2: 1884, y1: cbY(v), y2: cbY(v), stroke: "#333", "stroke-width": .8}, g);
    
    
    const t = mk("text", {x: 1886, y: cbY(v) + 6, "font-size": 16, fill: "#222"}, g);
    t.textContent = v.toFixed(1);
    
    
  });
})();

/* ---------- panel F bars ---------- */
(function(){
  const g = document.getElementById("barchart");
  const axisX = 104, baseY = 1978, topY = 1662, endX = 940;
  const y = v => baseY - v * 297.7 / 30000;
  const step = 20.86, first = 114.5, bw = 16.7;
  const x = i => first + i * step;
  const spineL = mk("line", {x1: axisX, x2: axisX, y1: topY, y2: baseY, stroke: "#555", "stroke-width": 1.2}, g);
  
  
  nCells.forEach((v, i) => {
    const b = mk("rect", {x: x(i) - bw / 2, y: y(v), width: bw, height: baseY - y(v), fill: "#3274a1"}, g);
    
    
    const tk = mk("line", {x1: x(i), x2: x(i), y1: baseY, y2: baseY + 3, stroke: "#555", "stroke-width": .8}, g);
    
    
    const t = mk("text", {transform: `translate(${x(i) + 7},${baseY + 9}) rotate(-47)`, "font-size": 12, "font-style": "italic", "text-anchor": "end", fill: "#333"}, g);
    t.textContent = cellTypes[i];
    
    
  });
  const spineB = mk("line", {x1: axisX, x2: endX, y1: baseY, y2: baseY, stroke: "#555", "stroke-width": 1.2}, g);
  
  
  barTicks.forEach((v, i) => {
    const tk = mk("line", {x1: axisX - 3, x2: axisX, y1: y(v), y2: y(v), stroke: "#555", "stroke-width": 1}, g);
    
    
    const t = mk("text", {x: 96, y: y(v) + 7, "font-size": 19, "text-anchor": "end", fill: "#222"}, g);
    t.textContent = barTickLabels[i];
    
    
  });
  const yt = mk("text", {transform: "translate(29,1806) rotate(-90)", "font-size": 22.7, "text-anchor": "middle", "font-family": '"DejaVu Sans",sans-serif', fill: "#222"}, g);
  yt.textContent = "n_cells";
  
  
  const xt = mk("text", {x: 436, y: 2083, "font-size": 24, "text-anchor": "middle", fill: "#222"}, g);
  xt.textContent = "Predicted";
  
  
})();
</script>
</body>
</html>
